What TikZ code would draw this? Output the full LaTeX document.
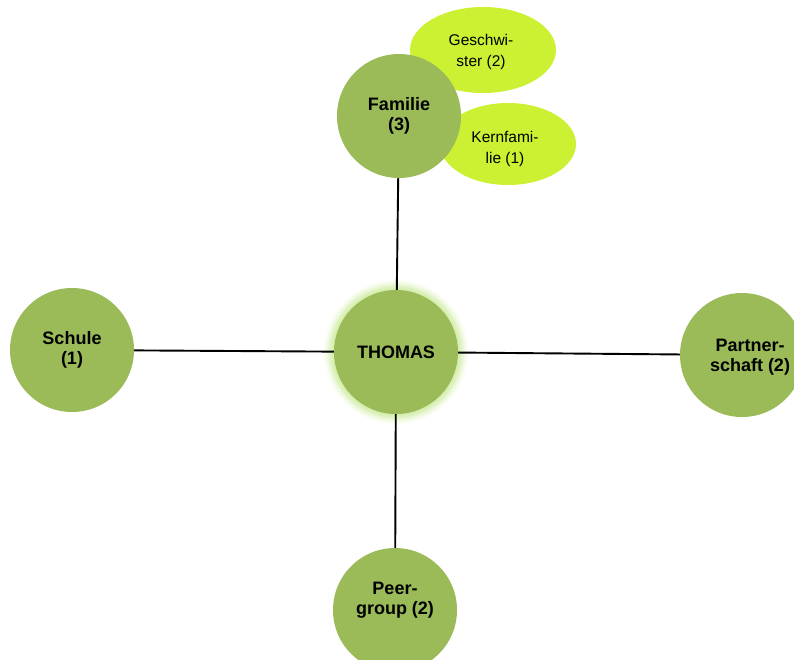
\documentclass[tikz,border=0pt]{standalone}
\usepackage{fontspec}
\setmainfont{Liberation Sans}
\definecolor{olive}{HTML}{9BBB59}
\definecolor{lime}{HTML}{CCF032}
\definecolor{glow}{HTML}{D2EDA8}
\tikzset{
  bubble/.style={circle, fill=olive, minimum size=124pt, inner sep=0pt, align=center,
    font=\fontsize{18}{20}\selectfont\bfseries},
  sub/.style={ellipse, fill=lime, inner sep=0pt, align=center,
    font=\fontsize{15.5}{21}\selectfont},
  lbl/.style={align=center, font=\fontsize{18}{20}\selectfont\bfseries},
  link/.style={line width=1.9pt, black}
}
\usetikzlibrary{shapes.geometric}
\begin{document}
\begin{tikzpicture}[x=1pt,y=-1pt]
\useasboundingbox (0,0) rectangle (794,659);
\clip (0,0) rectangle (794,659);
% sub-ellipses
\node[sub, minimum width=146pt, minimum height=86pt] (gesch) at (483,50) {};
\node[sub, minimum width=136pt, minimum height=82pt] (kern) at (508,144) {};
\node[align=center, font=\fontsize{15.5}{21}\selectfont] (geschT) at (481,52) {Geschwi-\\ster (2)};
\node[align=center, font=\fontsize{15.5}{21}\selectfont] (kernT) at (505,149) {Kernfami-\\lie (1)};
% glow
\foreach \r/\o in {72/0.12,70/0.2,68/0.3,66/0.45,64/0.65}{
  \fill[glow, opacity=\o] (396,352) circle (\r);
}
% nodes
\node[bubble] (fam) at (399,116) {Familie\\(3)};
\node[bubble] (thomas) at (396,352) {THOMAS};
\node[bubble] (schule) at (72,350) {Schule\\(1)};
\node[bubble] (partner) at (742,355) {};
\node[bubble] (peer) at (395,610) {};
\node[lbl] (partnerT) at (750,357) {Partner-\\schaft (2)};
\node[lbl] (peerT) at (395,600) {Peer-\\group (2)};
% links
\draw[link] (fam) -- (thomas);
\draw[link] (schule) -- (thomas);
\draw[link] (thomas) -- (partner);
\draw[link] (thomas) -- (peer);
\end{tikzpicture}
\end{document}
